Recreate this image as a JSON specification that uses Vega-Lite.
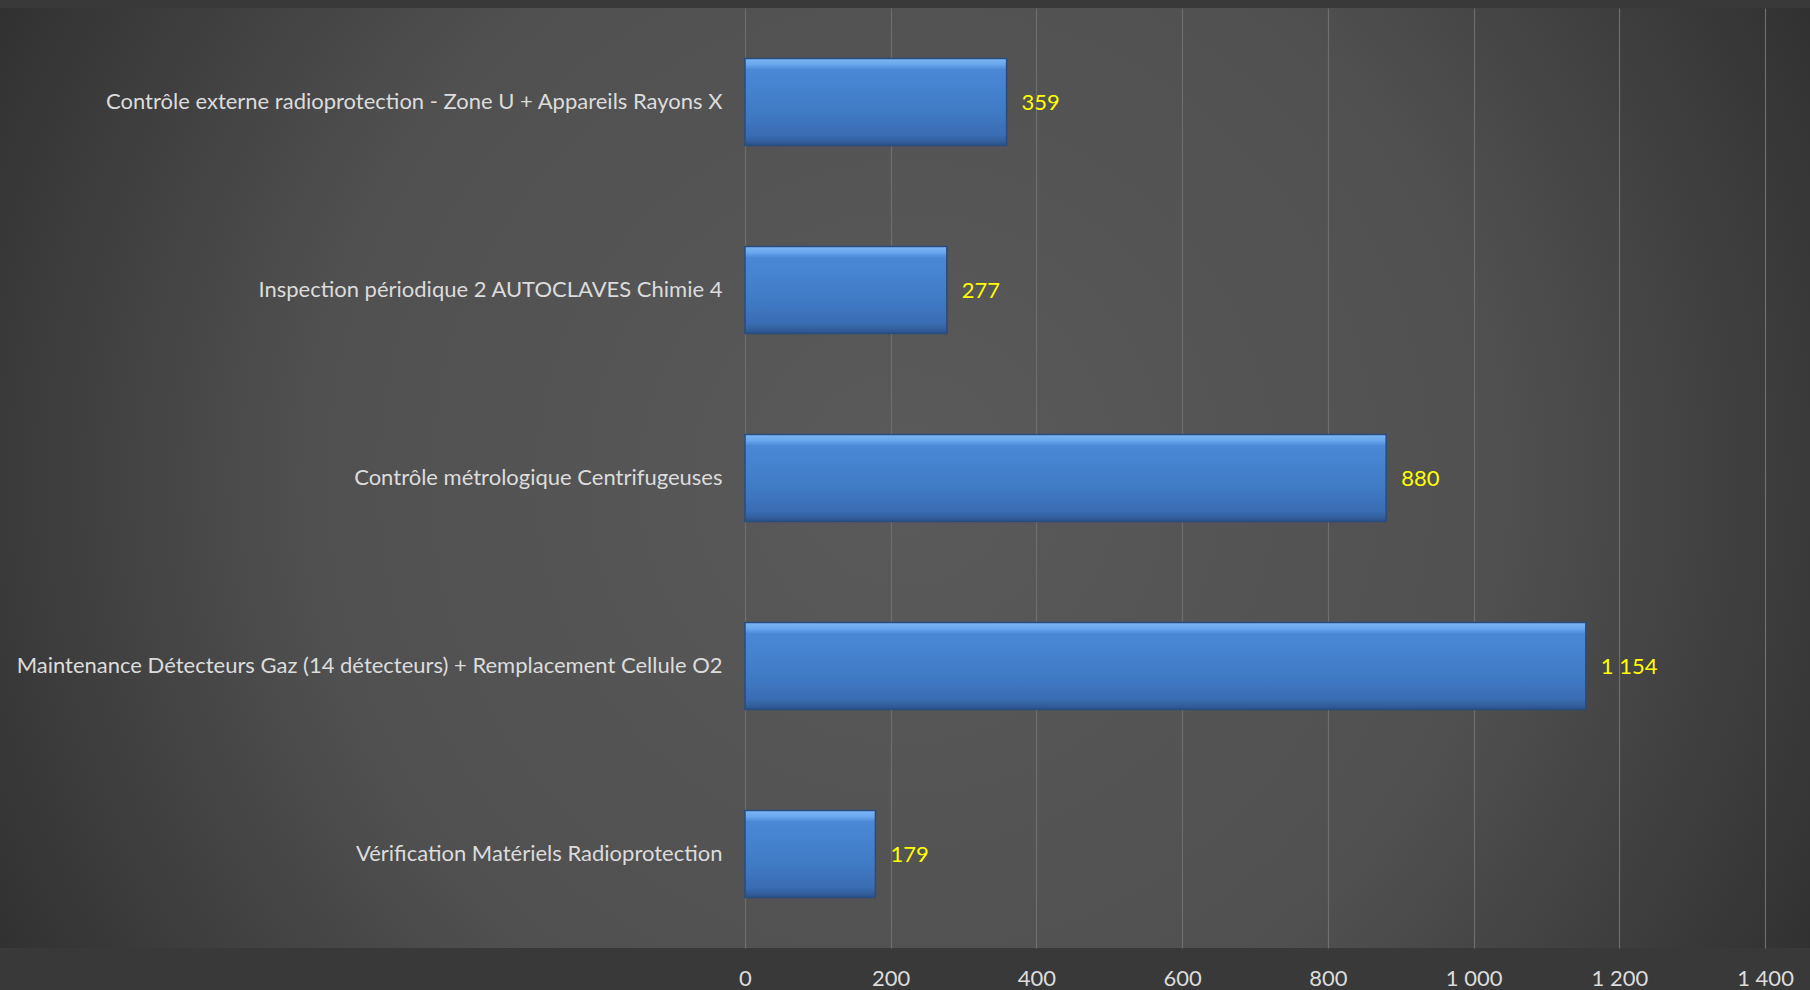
{
  "$schema": "https://vega.github.io/schema/vega-lite/v6.json",
  "width": 1810,
  "height": 940,
  "autosize": {"type": "none"},
  "padding": {"top": 8, "left": 0, "right": 0, "bottom": 42},
  "background": "#393939",
  "data": {
    "values": [
      {"label": "Contrôle externe radioprotection - Zone U + Appareils Rayons X", "value": 359},
      {"label": "Inspection périodique 2 AUTOCLAVES Chimie 4", "value": 277},
      {"label": "Contrôle métrologique Centrifugeuses", "value": 880},
      {"label": "Maintenance Détecteurs Gaz (14 détecteurs) + Remplacement Cellule O2", "value": 1154},
      {"label": "Vérification Matériels Radioprotection", "value": 179}
    ]
  },
  "encoding": {
    "y": {
      "field": "label",
      "type": "nominal",
      "sort": null,
      "scale": {"paddingInner": 0.537, "paddingOuter": 0.268},
      "axis": {
        "title": null,
        "offset": -745,
        "labelPadding": 23,
        "ticks": false,
        "domain": false,
        "labelLimit": 0,
        "labelFont": "Lato",
        "labelFontSize": 22,
        "labelColor": "#dcdcdc"
      }
    }
  },
  "layer": [
    {
      "mark": {
        "type": "bar",
        "stroke": "#284c80",
        "strokeWidth": 1.5,
        "color": {
          "gradient": "linear",
          "x1": 0, "y1": 0, "x2": 0, "y2": 1,
          "stops": [
            {"offset": 0, "color": "#7db8f6"},
            {"offset": 0.07, "color": "#6aa6ee"},
            {"offset": 0.13, "color": "#4a88d6"},
            {"offset": 0.6, "color": "#407bc6"},
            {"offset": 0.88, "color": "#3a6db3"},
            {"offset": 0.95, "color": "#335f9d"},
            {"offset": 1, "color": "#2b5288"}
          ]
        }
      },
      "encoding": {
        "x": {
          "field": "value",
          "type": "quantitative",
          "scale": {"domain": [-1022.5, 1461.7], "nice": false, "zero": false},
          "axis": {
            "title": null,
            "values": [0, 200, 400, 600, 800, 1000, 1200, 1400],
            "format": ",d",
            "grid": true,
            "gridColor": "#6e6e6e",
            "gridWidth": 1.2,
            "domain": false,
            "ticks": false,
            "labelPadding": 20,
            "labelFont": "Lato",
            "labelFontSize": 22,
            "labelColor": "#dcdcdc"
          }
        },
        "x2": {"datum": 0}
      }
    },
    {
      "mark": {"type": "rule", "color": "#a8a8a8", "strokeWidth": 2},
      "encoding": {"x": {"datum": 0}}
    },
    {
      "mark": {
        "type": "text",
        "align": "left",
        "baseline": "middle",
        "dx": 15,
        "dy": 1,
        "font": "Lato",
        "fontSize": 22,
        "color": "#ffff00"
      },
      "encoding": {
        "x": {"field": "value", "type": "quantitative"},
        "text": {"field": "value", "type": "quantitative", "format": ",d"}
      }
    }
  ],
  "config": {
    "locale": {
      "number": {"decimal": ",", "thousands": " ", "grouping": [3], "currency": ["", " €"]}
    },
    "view": {
      "stroke": null,
      "fill": {
        "gradient": "radial",
        "x1": 0.5, "y1": 0.5, "r1": 0,
        "x2": 0.5, "y2": 0.5, "r2": 0.6,
        "stops": [
          {"offset": 0, "color": "#5a5a5a"},
          {"offset": 0.55, "color": "#505050"},
          {"offset": 0.83, "color": "#3a3a3a"},
          {"offset": 1, "color": "#2c2c2c"}
        ]
      }
    }
  }
}
